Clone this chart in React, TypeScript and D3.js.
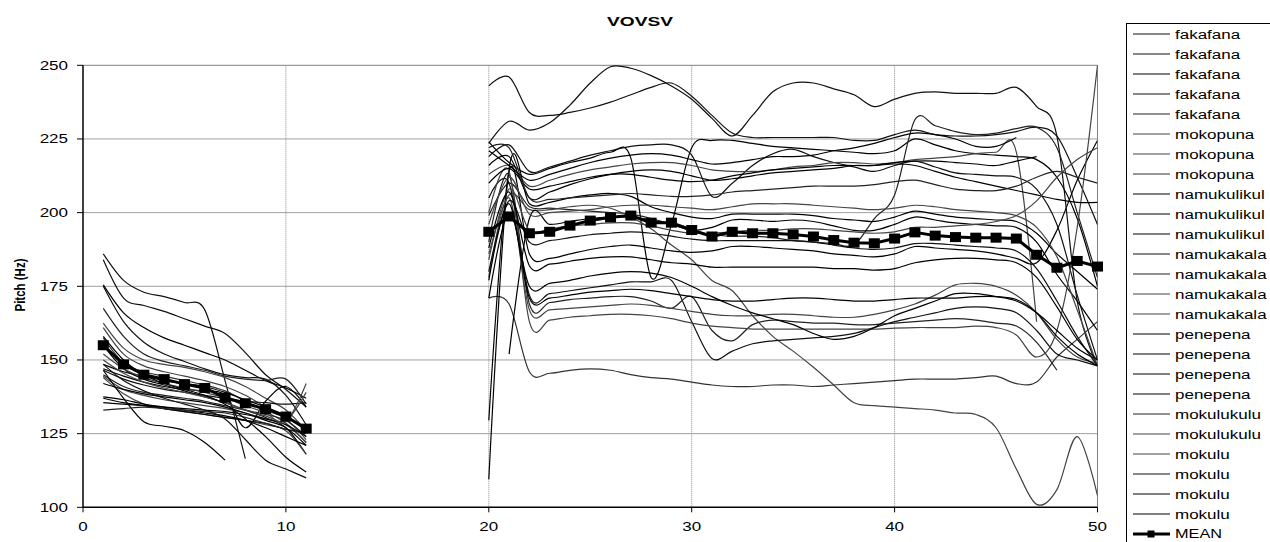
import React from 'react';
import * as d3 from 'd3';

type Pitch = number | null;

// Measurement frames: first vowel sampled at 1..11, second vowel at 20..50
const framesV1 = d3.range(1, 12);
const framesV2 = d3.range(20, 51);

const yTicks = [100, 125, 150, 175, 200, 225, 250];
const xTicks = [0, 10, 20, 30, 40, 50];

// Each token: 11 values for the first vowel, then 31 for the second vowel
const fakafana1: Pitch[] = [186, 177, 173, 171.5, 169.5, 167, 143, 116.5, null, null, null,
  223.5, 231, 228, 230.5, 236.5, 244, 249.5, 249, 246.5, 243, 238.5, 232, 226, 233, 241, 244, 244, 242, 240, 236, 238.5, 240.5, 241, 240.5, 240.5, 240.5, 242.5, 236, 226, 170, 148];
const fakafana2: Pitch[] = [184, 171, 168.5, 166.5, 164, 161.5, 159, 152.5, 145, 140, 134,
  243, 246, 234, 233, 234, 235.5, 237.5, 240, 242.5, 244, 239.5, 233, 227, 225.5, 225.5, 225.5, 225.5, 225.5, 224.5, 224.5, 226.5, 228, 226.5, 226, 226, 226.5, 227.5, 229, 226, 212, 196];
const fakafana3: Pitch[] = [175.5, 166, 161, 157.5, 155, 152.5, 150, 146.5, 143, 140.5, 137,
  224, 217, 213, 215, 217, 218.5, 220.5, 218.5, 178, 196, 222, 224.5, 224.5, 223.5, 222.5, 222, 221.5, 221, 220.5, 220, 221, 225, 223, 221, 220, 219.5, 219, 218, 212, 198, 175];
const fakafana4: Pitch[] = [175, 163, 156, 152, 149.5, 147, 145, 144, 143.5, 138, 128,
  219, 223, 214, 215.5, 217.5, 219.5, 221, 222.5, 223, 223, 219.5, 205.5, 210, 216, 220, 221.5, 219, 217, 215.5, 214, 216, 217.5, 215.5, 213.5, 213, 212.5, 212, 208, 196, 172, 150];
const fakafana5: Pitch[] = [167.5, 158, 152, 149.5, 148, 146.5, 144.5, 143.5, 143, 143.5, 135,
  199, 210, 202, 201.5, 201, 200.5, 200, 199.5, 198, 196, 194, 192.5, 192, 192, 191.5, 190.5, 190, 189.5, 189, 198, 206, 231.5, 229.5, 227.5, 226.5, 227, 228.5, 229, 222, 200, 178];
const mokopuna1: Pitch[] = [162.5, 154, 150, 148.5, 147.5, 146, 144, 141, 137, 133, 126,
  213, 216, 209, 211, 213, 214.5, 215.5, 216.5, 217, 217, 216, 214.5, 214, 214, 214.5, 215.5, 216, 217, 217, 216.5, 217, 218, 218.5, 219, 220, 220.5, 220.5, 163, null, null, null];
const mokopuna2: Pitch[] = [161, 152, 148, 146, 144.5, 143, 141, 138, 134, 130, 123,
  186, 206, 201, 201, 202, 202.5, 201.5, 198.5, 194.5, 189, 184, 177, 173.5, 165, 158, 153, 147.5, 141.5, 135.5, 134.5, 134, 133.5, 133, 132, 131.5, 127, 113, 101, 106, 124, 104];
const mokopuna3: Pitch[] = [157.5, 149, 146, 144.5, 143, 141.5, 139.5, 136, 132.5, 128.5, 122,
  171, 169, 146, 145.5, 146.5, 147, 146.5, 145, 144, 143.5, 142.5, 141.5, 141, 141, 141.5, 141.5, 141, 141.5, 142, 142.5, 143, 143.5, 143.5, 143.5, 144, 144.5, 142, 142.5, 151, 157, 163];
const namukulikulu1: Pitch[] = [155, 147, 143.5, 141.5, 139.5, 137.5, 135.5, 133, 130.5, 127, 118,
  null, 152, 198, 196, 197, 198, 198.5, 198.5, 197.5, 196, 194, 195, 197.5, 197.5, 197, 197.5, 197, 195.5, 194, 194, 196, 198.5, 197.5, 196.5, 196, 195.5, 195, 190, 179, 170, 160];
const namukulikulu2: Pitch[] = [148.5, 146, 144.5, 143, 142, 141, 139, 136.5, 134, 131, 126,
  109.5, 215, 203, 203.5, 205, 206, 206.5, 205.5, 202, 200, 198.5, 198, 199.5, 199.5, 199.5, 199.5, 199, 198, 197.5, 197, 198.5, 200.5, 199.5, 198.5, 198, 197.5, 197, 193, 186, 180, 174];
const namukulikulu3: Pitch[] = [147, 144.5, 142.5, 141, 140, 139.5, 138, 127, 136, 141, 134,
  129.5, 214, 186, 184.5, 186, 187.5, 188.5, 189, 188, 187, 186.5, 187, 188.5, 188.5, 188, 187.5, 187, 186, 185.5, 185, 186, 188.5, 188, 187.5, 187, 186, 184.5, 183, 194, 211, 224.5];
const namukakala1: Pitch[] = [146.5, 143.5, 141.5, 140, 139, 138, 137, 136, 135.5, 135, 135.5,
  205, 210, 172, 172.5, 173.5, 174.5, 175.5, 176.5, 176.5, 177, 163, 150.5, 153, 155.5, 156.5, 157, 157.5, 158, 159, 161, 163, 164.5, 166, 167.5, 168, 167.5, 166, 160, 152, 150, 148];
const namukakala2: Pitch[] = [145, 141, 139, 138, 137, 136, 134.5, 133, 131.5, 129.5, 124,
  190, 213, 169, 169.5, 170.5, 171, 171.5, 171.5, 170, 167.5, 171.5, 160, 156.5, 162, 163.5, 163, 162.5, 162.5, 162, 162, 162.5, 163, 163.5, 164, 163.5, 162.5, 161.5, 156, 146.5, null, null];
const namukakala3: Pitch[] = [144.5, 140, 138, 136.5, 135.5, 134.5, 133.5, 132, 130, 128, 122,
  200, 214, 163, 163.5, 164.5, 165, 165.5, 165.5, 165, 164, 162.5, 161.5, 161, 160.5, 160.5, 160.5, 160.5, 160.5, 160.5, 160.5, 160.8, 161, 161, 161, 161.5, 161, 158.5, 151, 160, 195, 250];
const namukakala4: Pitch[] = [144, 138.5, 135, 133.5, 132.5, 131.5, 130.5, 129.5, 128, 126, 118,
  178, 205, 167, 167, 167.5, 168, 168.5, 169, 168.5, 167.5, 166.5, 165.5, 165, 165, 165.5, 165.5, 165, 164.5, 164.5, 165.5, 167, 169, 172, 175.5, 176, 175, 172, 166, 157, 151, 149];
const penepena1: Pitch[] = [146.5, 137, 129, 127.5, 126, 122, 116, null, null, null, null,
  171, 200, 175, 176, 177, 178.5, 179.5, 180, 179.5, 178, 175, 171.5, 168.5, 166, 164, 162, 159, 157, 158, 161, 165, 167.5, 170, 172.5, 172.5, 171.5, 170, 166, 160, 154, 150];
const penepena2: Pitch[] = [137.5, 136.5, 135, 134, 133, 132, 131, 129.5, 127, 124, 121,
  221, 216, 211, 213, 215, 217, 218.5, 219.5, 220, 219.5, 218, 216.5, 217, 218, 219, 219, 219.5, 221, 222, 223.5, 225.5, 227, 226.5, 225, 222.5, 222.5, 225.5, null, null, null, null];
const penepena3: Pitch[] = [137, 135.5, 134.5, 133.5, 132.5, 131.5, 130.5, 129.5, 128.5, 126.5, 125.5,
  216, 219, 205, 207, 209.5, 211.5, 213, 214, 214.5, 214, 212.5, 211, 211.5, 212.5, 213.5, 214, 214.5, 215, 216, 216, 217, 217.5, 217.5, 217, 216.5, 216, 217.5, 219, null, null, null];
const penepena4: Pitch[] = [135.5, 135, 134.5, 134, 133.5, 133, 132.5, 131.5, 130, 128, 124,
  210, 215, 208, 209, 210.5, 212, 213, 213, 212, 211, 210.5, 211, 212.5, 213.5, 214.5, 215, 215.5, 216, 216, 216, 216.5, 216, 214, 212, 210.5, 209, 207.5, 206, 204.5, 203.5, 203.5];
const mokulukulu1: Pitch[] = [133, 133.5, 134, 133.5, 133, 132.5, 132, 130.5, 128.5, 126.5, 125,
  222, 222, 205, 204.5, 205, 205.5, 206, 206.5, 206, 205.5, 205.5, 206, 207, 207.5, 208, 208.5, 209, 209, 209, 209.5, 210.5, 211, 209.5, 208, 207.5, 207.5, 209, 212, 214, 212, 210];
const mokulukulu2: Pitch[] = [152, 147, 144, 142, 140.5, 139, 137, 134.5, 132, 129, 142,
  196, 212, 199.5, 200, 200.5, 201, 202, 202.5, 202.5, 202, 201.5, 201, 202, 203, 203, 203, 202.5, 202, 201.5, 201, 201.5, 202.5, 202, 201, 200.5, 200, 199, 195, 185, 167, 148];
const mokulu1: Pitch[] = [150, 145.5, 142.5, 140.5, 139, 137.5, 135.5, 133, 131, 129.5, 139,
  184, 208, 194, 194.5, 195.5, 196, 196.5, 196.5, 195.5, 194, 193, 193, 193.5, 194, 194, 194.5, 194.5, 194, 193.5, 193, 193.5, 195, 195, 195.5, 196, 197, 199, 204, 212, 218, 222];
const mokulu2: Pitch[] = [148.5, 143, 139.5, 137, 135, 133, 130, 123, 116, 113, 110,
  180, 204, 190, 190.5, 191.5, 192.5, 193, 193.5, 193, 192, 191, 190.5, 190.5, 190.5, 190.5, 190.5, 190, 189, 188, 187.5, 188, 189.5, 189.5, 189, 188.5, 188, 187, 181, 170, 158, 148];
const mokulu3: Pitch[] = [158, 150, 145, 142, 140, 138, 135, 130, 124, 117, 112,
  188, 207, 182, 182.5, 183.5, 184.5, 185, 185, 184, 183, 182.5, 181.5, 181.5, 181.5, 181.5, 181.5, 181.5, 181, 181, 180.5, 181, 183, 184, 184.5, 184.5, 184, 183, 178, 168, 157, 150];
const mokulu4: Pitch[] = [142, 140, 138.5, 137.5, 136.5, 135.5, 134, 132, 129.5, 127, 121,
  177, 203, 171, 171, 172, 173, 173.5, 174, 173.5, 172.5, 171.5, 170.5, 170, 170, 170.5, 171, 171, 170.5, 170, 170, 170.5, 171, 171, 171, 171.5, 171.5, 170.5, 166, 158, 152, 148];

const meanPitch: Pitch[] = [155, 148.5, 145, 143.5, 141.8, 140.5, 137.2, 135.3, 133.3, 130.8, 126.7,
  193.5, 198.7, 193, 193.5, 195.6, 197.3, 198.4, 199, 196.6, 196.6, 194.1, 191.9, 193.5, 193, 193, 192.6, 191.9, 190.7, 189.8, 189.6, 191.2, 193.3, 192.2, 191.7, 191.5, 191.5, 191.2, 185.7, 181.3, 183.6, 181.7];

const tokens = [fakafana1, fakafana2, fakafana3, fakafana4, fakafana5, mokopuna1, mokopuna2, mokopuna3,
  namukulikulu1, namukulikulu2, namukulikulu3, namukakala1, namukakala2, namukakala3, namukakala4,
  penepena1, penepena2, penepena3, penepena4, mokulukulu1, mokulukulu2, mokulu1, mokulu2, mokulu3, mokulu4];
const tokenLabels = ['fakafana', 'fakafana', 'fakafana', 'fakafana', 'fakafana', 'mokopuna', 'mokopuna', 'mokopuna',
  'namukulikul', 'namukulikul', 'namukulikul', 'namukakala', 'namukakala', 'namukakala', 'namukakala',
  'penepena', 'penepena', 'penepena', 'penepena', 'mokulukulu', 'mokulukulu', 'mokulu', 'mokulu', 'mokulu', 'mokulu'];
const tokenColors = ['#111', '#111', '#000', '#111', '#222', '#444', '#444', '#333',
  '#000', '#000', '#000', '#111', '#222', '#444', '#444',
  '#000', '#000', '#000', '#000', '#222', '#444', '#444', '#111', '#000', '#000'];

const FONT = '"Liberation Sans", Arial, Helvetica, sans-serif';

type Pt = [number, Pitch];

function toPoints(vals: Pitch[]): Pt[] {
  const a: Pt[] = framesV1.map((f, i) => [f, vals[i]]);
  const b: Pt[] = framesV2.map((f, i) => [f, vals[11 + i]]);
  // break between the two vowels
  return [...a, [15, null], ...b];
}

function WideText(props: { x: number; y: number; anchor?: string; size: number; bold?: boolean; sx?: number; children: React.ReactNode }) {
  const { x, y, anchor = 'start', size, bold, sx = 1.36, children } = props;
  return (
    <text transform={`translate(${x},${y}) scale(${sx},1)`} textAnchor={anchor} fontSize={size}
      fontWeight={bold ? 'bold' : 'normal'} fontFamily={FONT} fill="#000">{children}</text>
  );
}

export default function App() {
  const W = 1270, H = 542;
  const x = d3.scaleLinear().domain([0, 50]).range([83, 1097.5]);
  const y = d3.scaleLinear().domain([100, 250]).range([507.3, 65.3]);

  const smooth = d3.line<Pt>()
    .defined(d => d[1] != null)
    .x(d => x(d[0]))
    .y(d => y(d[1] as number))
    .curve(d3.curveCardinal.tension(0));
  const straight = d3.line<Pt>()
    .defined(d => d[1] != null)
    .x(d => x(d[0]))
    .y(d => y(d[1] as number));

  const meanPts = toPoints(meanPitch);
  const meanMarks = meanPts.filter(d => d[1] != null);
  const x0 = x(0), x1 = x(50), yTop = y(250), yBot = y(100);

  const legX = 1126.5, legY = 23.5, legStep = 20.0, legFirst = 34;

  return (
    <svg width={W} height={H} style={{ position: 'absolute', left: 0, top: 0, background: '#fff' }}>
      <defs>
        <clipPath id="plotClip">
          <rect x={x0} y={yTop - 1} width={x1 - x0} height={yBot - yTop + 1} />
        </clipPath>
      </defs>
      <rect x={0} y={0} width={W} height={H} fill="#fff" />

      {/* gridlines */}
      {yTicks.filter(t => t > 100 && t < 250).map(t => (
        <line key={'gy' + t} x1={x0} x2={x1} y1={y(t)} y2={y(t)} stroke="#a0a0a0" strokeWidth={1} />
      ))}
      {xTicks.filter(t => t > 0 && t < 50).map(t => (
        <line key={'gx' + t} x1={x(t)} x2={x(t)} y1={yTop} y2={yBot} stroke="#8c8c8c" strokeWidth={1} strokeDasharray="1 1" />
      ))}
      <line x1={x0} x2={x1} y1={yTop} y2={yTop} stroke="#808080" strokeWidth={1} />
      <line x1={x1} x2={x1} y1={yTop} y2={yBot} stroke="#808080" strokeWidth={1} />

      {/* token contours */}
      <g clipPath="url(#plotClip)" fill="none">
        {tokens.map((vals, i) => (
          <path key={'t' + i} d={smooth(toPoints(vals)) || ''} stroke={tokenColors[i]} strokeWidth={1.2} />
        ))}
        <path d={straight(meanPts) || ''} stroke="#000" strokeWidth={3} />
      </g>
      {meanMarks.map(d => (
        <rect key={'m' + d[0]} x={x(d[0]) - 5.5} y={y(d[1] as number) - 5} width={11} height={10} fill="#000" />
      ))}

      {/* axes */}
      <line x1={x0} x2={x0} y1={yTop} y2={yBot} stroke="#000" strokeWidth={1.5} />
      <line x1={x0} x2={x1} y1={yBot} y2={yBot} stroke="#000" strokeWidth={1.5} />
      {yTicks.map(t => (
        <g key={'yt' + t}>
          <line x1={x0 - 6} x2={x0} y1={y(t)} y2={y(t)} stroke="#000" strokeWidth={1} />
          <WideText x={68} y={y(t) + 4.5} anchor="end" size={12.5}>{t}</WideText>
        </g>
      ))}
      {xTicks.map(t => (
        <g key={'xt' + t}>
          <line x1={x(t)} x2={x(t)} y1={yBot} y2={yBot + 5} stroke="#000" strokeWidth={1} />
          <WideText x={x(t)} y={531} anchor="middle" size={12.5}>{t}</WideText>
        </g>
      ))}

      {/* titles */}
      <WideText x={640} y={26} anchor="middle" size={13.5} bold sx={1.42}>VOVSV</WideText>
      <text transform={`translate(25,285) rotate(-90) scale(1,1.35)`} textAnchor="middle" fontSize={11.5}
        fontWeight="bold" fontFamily={FONT} fill="#000">Pitch (Hz)</text>

      {/* legend */}
      <rect x={legX} y={legY} width={200} height={600} fill="#fff" stroke="#000" strokeWidth={1} />
      {tokenLabels.map((name, i) => {
        const ly = legFirst + i * legStep;
        return (
          <g key={'lg' + i}>
            <line x1={1133} x2={1170} y1={ly} y2={ly} stroke={tokenColors[i]} strokeWidth={1.2} />
            <WideText x={1175} y={ly + 4.5} size={12.5} sx={1.36}>{name}</WideText>
          </g>
        );
      })}
      {(() => {
        const ly = legFirst + tokenLabels.length * legStep;
        return (
          <g>
            <line x1={1133} x2={1170} y1={ly} y2={ly} stroke="#000" strokeWidth={3} />
            <rect x={1147.5} y={ly - 3.5} width={7} height={7} fill="#000" />
            <WideText x={1175} y={ly + 4} size={12} sx={1.36}>MEAN</WideText>
          </g>
        );
      })()}
    </svg>
  );
}
